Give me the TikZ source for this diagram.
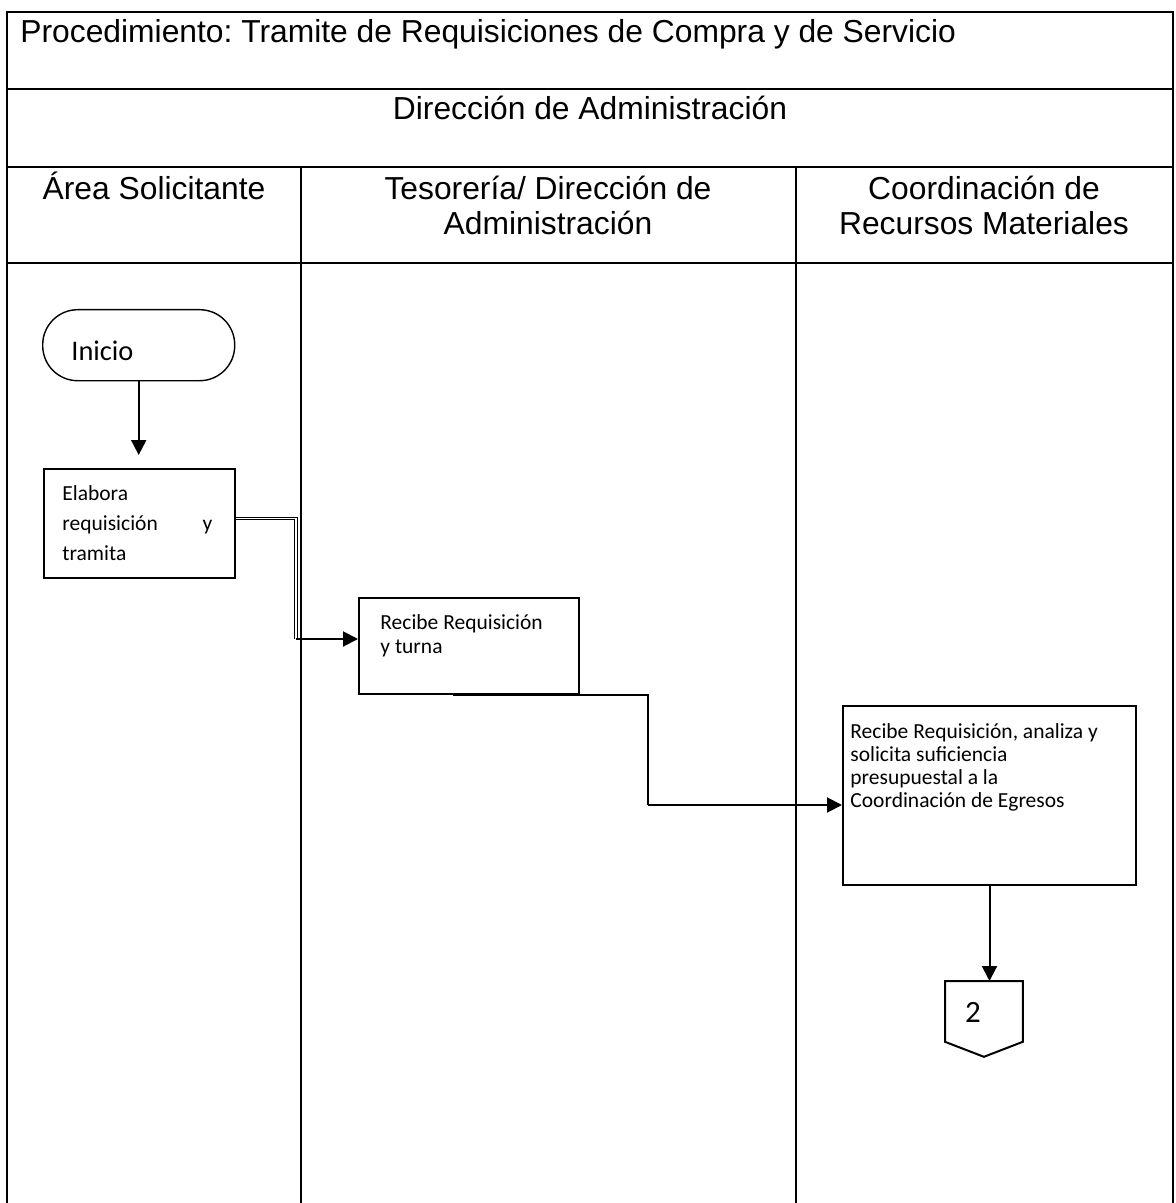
\documentclass[tikz,border=0pt]{standalone}
\usepackage{fontspec}
\setmainfont{Liberation Sans}
\newfontfamily\carlito{Carlito}
\usetikzlibrary{arrows.meta}
\frenchspacing
\begin{document}
\begin{tikzpicture}[x=0.5pt,y=-0.5pt,
  grid/.style={line width=1.3pt},
  head/.style={inner sep=0pt, font=\fontsize{15.9}{17.5}\selectfont, align=center},
  stepbox/.style={draw, line width=1pt, inner sep=0pt, anchor=north west},
  body/.style={inner sep=0pt, anchor=base west, align=left,
    font=\carlito\fontsize{10.75}{#1}\selectfont},
  body/.default=12,
  arr/.style={line width=1pt, -{Triangle[length=7.5pt,width=7.5pt]}},
  link/.style={line width=1pt},
  dbl/.style={double, line width=0.45pt, double distance=0.7pt}
]
% page
\fill[white] (0,0) rectangle (1176,1203);
\useasboundingbox (0,0) rectangle (1176,1203);

% table frame
\draw[grid] (7,1203) -- (7,12) -- (1173,12) -- (1173,1203);
\draw[grid] (7,89) -- (1173,89);
\draw[grid] (7,167) -- (1173,167);
\draw[grid] (7,263) -- (1173,263);
\draw[grid] (301,167) -- (301,1203);
\draw[grid] (796,167) -- (796,1203);

% headings (multi-line nodes are anchored on their last baseline)
\node[head, anchor=base west] (title) at (20,43) {Procedimiento: Tramite de Requisiciones de Compra y de Servicio};
\node[head, anchor=base] (dir) at (590,120) {Dirección de Administración};
\node[head, anchor=base] (lane1) at (154,200) {Área Solicitante};
\node[head, anchor=base] (lane2) at (548,235) {Tesorería/ Dirección de\\Administración};
\node[head, anchor=base] (lane3) at (984,235) {Coordinación de\\Recursos Materiales};

% start terminator
\node[draw, line width=0.7pt, rounded corners=17.5pt, inner sep=0pt,
  minimum width=96pt, minimum height=35.5pt, anchor=north west] (ini) at (42,309) {};
\node[inner sep=0pt, anchor=base west, font=\carlito\fontsize{14.2}{14}\selectfont] (initxt) at (71,360) {Inicio};

% process steps
\node[stepbox, minimum width=95.5pt, minimum height=54.5pt] (elab) at (43,468) {};
\node[body=15, text width=75pt] (elabt) at (62,500) {Elabora\\requisición\hfill y\\tramita};

\node[stepbox, minimum width=110pt, minimum height=48pt] (rec) at (358,597) {};
\node[body=12] (rect) at (380,653) {Recibe Requisición\\y turna};

\node[stepbox, minimum width=146.5pt, minimum height=89.5pt] (ana) at (842,705) {};
\node[body=11.35] (anat) at (850,807) {Recibe Requisición, analiza y\\solicita suficiencia\\presupuestal a la\\Coordinación de Egresos};

% off-page connector
\node[inner sep=0pt, minimum width=38.5pt, minimum height=37.5pt, anchor=north west] (off) at (945,981) {};
\draw[line width=1pt, line join=miter] (off.north west) -- (off.north east) -- ([yshift=7.5pt]off.south east)
  -- (off.south) -- ([yshift=7.5pt]off.south west) -- cycle;
\node[inner sep=0pt, anchor=base, font=\carlito\fontsize{15.5}{15}\selectfont] (offnum) at (973,1022) {2};

% connectors
\draw[arr] (ini.south) -- ([yshift=6.5pt]ini.south |- elab.north);

\coordinate (k1) at (296,639);
\draw[dbl] ([yshift=2.5pt]elab.east) -| (k1);
\draw[arr] (k1) -- (k1 -| rec.west);

\coordinate (k2) at (648,805);
\draw[link] ([xshift=-8pt]rec.south) -| (k2);
\draw[arr] (k2) -- (k2 -| ana.west);

\draw[arr] (ana.south) -- (ana.south |- off.north);
\end{tikzpicture}
\end{document}
